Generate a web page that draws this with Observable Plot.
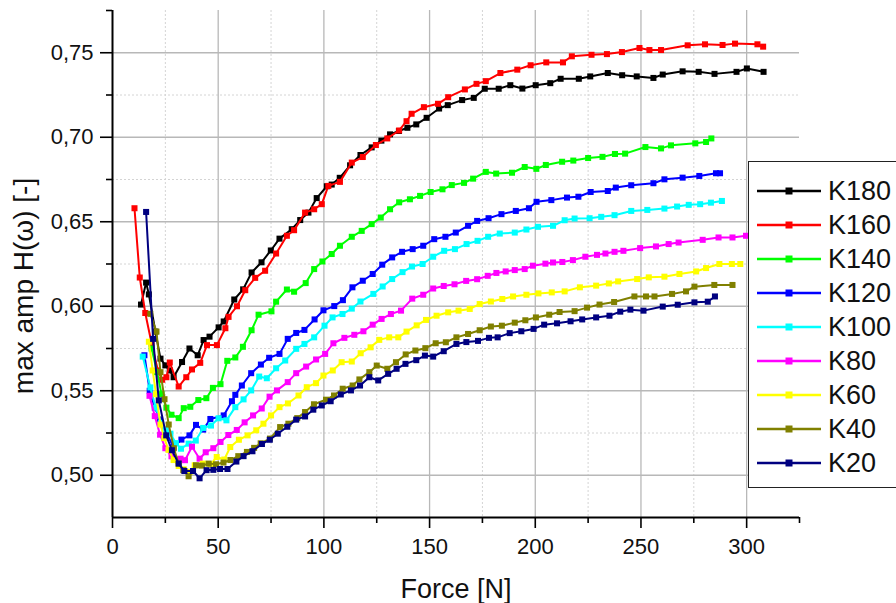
<!DOCTYPE html>
<html><head><meta charset="utf-8">
<script src="https://cdn.jsdelivr.net/npm/d3@7"></script>
<script src="https://cdn.jsdelivr.net/npm/@observablehq/plot@0.6"></script>
<style>
body{margin:0;background:#fff;font-family:"Liberation Sans",Arial,sans-serif;}
#wrap{position:relative;width:896px;height:603px;overflow:hidden;background:#fff;}
#legend{position:absolute;left:748px;top:161px;width:170px;height:327px;border:1px solid #222;background:#fff;box-sizing:border-box;}
.row{position:absolute;left:8px;height:34px;display:flex;align-items:center;}
.row span{font-size:27px;color:#111;margin-left:7px;line-height:34px;}
</style></head>
<body><div id="wrap"><div id="chart"></div><div id="legend"></div></div>
<script>
const names = ["K180","K160","K140","K120","K100","K80","K60","K40","K20"];
const colors = ["#000000","#ff0000","#00ff00","#0000ff","#00ffff","#ff00ff","#ffff00","#808000","#000080"];

const k180 = [[13.5,0.601],[15.9,0.614],[17.2,0.607],[20.3,0.585],[22.7,0.569],[25,0.565],[27.1,0.562],[28.9,0.558],[32.9,0.567],[36.4,0.575],[40.3,0.571],[43.1,0.580],[45.9,0.582],[50.2,0.5875],[52.6,0.591],[57.6,0.604],[61.8,0.610],[65.8,0.620],[70.5,0.626],[74.9,0.633],[79,0.640],[84.8,0.6456],[88.8,0.651],[92.7,0.6554],[96.6,0.664],[101.4,0.671],[103.7,0.672],[107.5,0.676],[112.4,0.6834],[117.3,0.6895],[122.6,0.694],[127.2,0.698],[131.3,0.7017],[135.5,0.7037],[139.5,0.7056],[143.7,0.7076],[148.6,0.7115],[154.5,0.717],[158.6,0.719],[165.4,0.722],[170.9,0.7233],[176.1,0.7287],[182.7,0.7287],[188.2,0.7308],[193.9,0.7288],[200.2,0.7308],[207.1,0.732],[212,0.7346],[220.6,0.7346],[226,0.736],[234.3,0.738],[241.1,0.7367],[248,0.736],[255.9,0.7351],[260.3,0.7371],[269.7,0.739],[277.3,0.7387],[284.8,0.7375],[295.2,0.7387],[300.1,0.7407],[308,0.7387]];
const k160 = [[10.4,0.658],[12.9,0.617],[15.5,0.596],[18.5,0.578],[21.5,0.562],[23.5,0.5565],[25.5,0.558],[27.1,0.5667],[31.3,0.5525],[34.9,0.558],[37.6,0.5626],[41.5,0.5665],[44.7,0.577],[49.4,0.577],[53.4,0.587],[54.9,0.5937],[58.9,0.600],[62.8,0.6095],[67.5,0.6168],[72.2,0.621],[77.4,0.6312],[82.5,0.6417],[85.9,0.645],[91.1,0.6554],[95.4,0.6574],[99,0.6604],[102.1,0.6712],[107.6,0.6736],[113.2,0.685],[118.4,0.6883],[124.6,0.6954],[130,0.6993],[135.6,0.704],[139.1,0.7095],[141.5,0.7139],[147.3,0.7178],[154,0.7198],[158.8,0.7237],[166.7,0.7283],[172.2,0.7316],[176.6,0.7332],[183.5,0.738],[191.5,0.740],[197.8,0.7426],[205.2,0.7443],[213.1,0.7443],[217.3,0.7479],[226.6,0.7488],[233.9,0.7492],[241,0.7504],[249.3,0.7528],[254,0.7516],[259.5,0.7516],[272.1,0.7544],[280.3,0.755],[288.6,0.7546],[294.5,0.7554],[305.1,0.755],[307.8,0.7536]];
const k140 = [[18.5,0.575],[21.1,0.561],[23.2,0.548],[25.5,0.540],[27.9,0.5358],[31.3,0.5338],[33.7,0.5397],[36.8,0.5405],[40.6,0.5445],[44.4,0.5456],[47.5,0.5517],[51.1,0.5539],[54.3,0.5677],[58.1,0.5697],[61.7,0.576],[65.8,0.5858],[69.1,0.595],[75.2,0.597],[77.4,0.6027],[82.5,0.6099],[85.9,0.6086],[91.4,0.6137],[95.4,0.622],[99.3,0.6265],[103.7,0.6309],[107.6,0.6358],[113.2,0.6411],[117.9,0.6446],[122.6,0.6486],[126.9,0.6525],[131.3,0.6574],[135.6,0.6615],[140.7,0.6633],[145.5,0.6653],[150.5,0.6676],[156.1,0.6692],[160.5,0.6717],[166.3,0.673],[170.6,0.6755],[176.6,0.6795],[181.5,0.6785],[189,0.679],[195,0.6824],[200.5,0.6813],[205,0.6836],[212.7,0.6855],[218,0.6862],[225,0.6877],[231.8,0.6884],[237.7,0.6901],[242.5,0.6903],[252.1,0.6942],[259.5,0.6934],[264.2,0.6952],[275.7,0.6964],[280.8,0.6972],[283.3,0.6993]];
const k120 = [[15.1,0.571],[17.6,0.550],[20,0.540],[22.5,0.533],[25,0.526],[28.9,0.5167],[32.6,0.5211],[36.4,0.5236],[39.5,0.5298],[42.9,0.527],[46.3,0.5333],[52.6,0.5354],[56.5,0.5438],[58.1,0.5476],[61.2,0.5531],[65.6,0.5604],[70.2,0.5655],[74.1,0.5695],[79,0.5718],[82.9,0.5807],[86.9,0.5842],[90.8,0.586],[95.6,0.5922],[99.8,0.5976],[104.9,0.6001],[109,0.6036],[113.5,0.6112],[118.4,0.6151],[123.1,0.6191],[127.6,0.6246],[132.3,0.6289],[137,0.6322],[142,0.6338],[147,0.6358],[152.2,0.6397],[157.5,0.6411],[162.4,0.6436],[168.2,0.6476],[172.5,0.6505],[177.9,0.6521],[184,0.6545],[190.8,0.6564],[197,0.658],[200.6,0.6618],[207.6,0.6628],[215,0.6643],[220.4,0.6648],[226.2,0.6676],[234.3,0.6682],[238.1,0.6702],[245.4,0.6716],[255.9,0.6728],[261.1,0.6751],[269.7,0.6761],[277.6,0.6771],[285.5,0.6787],[287.4,0.6787]];
const k100 = [[14.3,0.5702],[17.9,0.552],[20.5,0.540],[23,0.531],[25.2,0.527],[27.4,0.5246],[30,0.519],[32.4,0.5157],[36,0.5187],[39.4,0.5205],[42.9,0.528],[46.6,0.5294],[50.2,0.5337],[53.9,0.5325],[58.1,0.5403],[62,0.5449],[65.6,0.5502],[69.4,0.5584],[73,0.5574],[77.4,0.5633],[81.7,0.5679],[86.9,0.5748],[90.8,0.5777],[95.4,0.5816],[100.3,0.5885],[104.1,0.5934],[108.8,0.5954],[113.2,0.5986],[117.3,0.6028],[123.4,0.6073],[127.8,0.6117],[132.3,0.6161],[137.2,0.6202],[141.7,0.6235],[146.7,0.625],[151.7,0.6293],[156.9,0.6328],[162,0.6338],[167.5,0.6368],[172.7,0.6387],[177.7,0.6411],[183.2,0.643],[190.3,0.6436],[195.8,0.6454],[201.3,0.647],[208.4,0.6476],[213.9,0.6509],[218.6,0.6519],[225.7,0.6521],[231.2,0.6529],[237.5,0.6539],[245.4,0.6564],[253,0.657],[261.1,0.6578],[267.1,0.659],[272.6,0.66],[278,0.6604],[283.1,0.6613],[288.3,0.6623]];
const k80 = [[17.5,0.547],[20,0.535],[22.5,0.524],[25,0.516],[27.9,0.5112],[30.4,0.5093],[32.2,0.5098],[34.3,0.5089],[37.6,0.5169],[41.2,0.5098],[44.1,0.5136],[47.7,0.516],[51.1,0.5197],[54.8,0.5238],[58.8,0.5268],[62.5,0.5313],[66.5,0.5354],[70.6,0.5395],[74.3,0.5465],[77.8,0.5502],[82.9,0.5551],[86.9,0.5604],[91.6,0.5643],[96.3,0.5685],[100.6,0.5718],[104.5,0.5781],[109.7,0.5813],[114.4,0.5831],[118.7,0.5852],[123.1,0.5891],[127.3,0.5925],[131.7,0.5954],[136.5,0.5974],[141.8,0.6045],[147,0.6068],[151.7,0.6105],[156.7,0.612],[161.8,0.613],[167.3,0.615],[172.5,0.616],[177.5,0.618],[181.6,0.6197],[186,0.6206],[190.3,0.6214],[195,0.622],[198.9,0.624],[204.8,0.6252],[208.4,0.6259],[212.8,0.6262],[217.8,0.6273],[223.7,0.6293],[229.2,0.6304],[233.2,0.6312],[237.5,0.6322],[241.7,0.6328],[249.6,0.6344],[257.1,0.6354],[263.1,0.6368],[267.8,0.6377],[279.2,0.6393],[286.7,0.6407],[293.3,0.6407],[299.7,0.6417],[306,0.6425]];
const k60 = [[17.2,0.579],[19,0.562],[20.6,0.548],[22.7,0.530],[24.5,0.522],[26.5,0.515],[28.9,0.509],[31.3,0.5055],[33.7,0.5035],[36.5,0.502],[38.9,0.5059],[42.7,0.5069],[46.3,0.5063],[49.3,0.5108],[52.9,0.5093],[55.7,0.5167],[59.8,0.521],[63.9,0.5236],[68,0.5266],[71.4,0.5305],[75,0.5354],[79,0.5403],[83,0.5425],[88,0.5472],[91.9,0.5521],[96.3,0.5545],[99.8,0.559],[104.2,0.562],[108.4,0.5669],[113.2,0.5673],[117.4,0.5722],[122.1,0.5757],[126.2,0.5801],[130.9,0.5816],[135.2,0.5816],[139.1,0.585],[143.9,0.5887],[148.3,0.5919],[153.3,0.5944],[158.8,0.5964],[163.7,0.5974],[169,0.5984],[173.7,0.6013],[179,0.6028],[184.4,0.6043],[189.5,0.6058],[195.8,0.6068],[201.5,0.6076],[207.8,0.6082],[213.9,0.6088],[221.1,0.6112],[228.8,0.6122],[234.8,0.6135],[239.2,0.6147],[248.2,0.6161],[253.7,0.6171],[261.1,0.6175],[268.2,0.6191],[276.1,0.6206],[280.8,0.6226],[287.1,0.625],[293,0.625],[297,0.625]];
const k40 = [[17.9,0.5955],[20.8,0.585],[22.7,0.561],[24.6,0.545],[26.6,0.530],[29,0.516],[31.3,0.5069],[33.5,0.503],[36,0.4994],[39.5,0.5059],[42.3,0.5057],[45.5,0.5069],[49,0.5065],[52.5,0.5075],[55.8,0.509],[59.5,0.5113],[63.6,0.5138],[67,0.5162],[70.1,0.5189],[74.5,0.5217],[79.3,0.5285],[83.2,0.5305],[87.4,0.5338],[91.1,0.5374],[95.3,0.542],[101,0.5447],[104.8,0.5472],[108.9,0.5512],[113.6,0.5531],[116.8,0.5567],[121.5,0.561],[125,0.5649],[130,0.563],[134.1,0.5669],[138.7,0.5715],[143.3,0.5738],[148,0.5752],[152.9,0.5781],[157.7,0.5787],[162.7,0.5816],[168.2,0.5836],[173.7,0.5858],[179,0.588],[184.2,0.5885],[190.3,0.5903],[195.3,0.5917],[200.3,0.5934],[206.6,0.595],[211.5,0.5966],[218.6,0.5971],[224.5,0.5992],[230.4,0.601],[237.3,0.6025],[246.9,0.6058],[252.4,0.6058],[256.4,0.6058],[264.7,0.6073],[271.3,0.6088],[275.3,0.6116],[284.7,0.6126],[293.3,0.6126]];
const k20 = [[15.9,0.6558],[19.2,0.5807],[21.9,0.5443],[25.4,0.5236],[28.1,0.5148],[31.3,0.5069],[34,0.5025],[38.1,0.5025],[41.2,0.4982],[44.5,0.503],[47.7,0.5032],[50.9,0.5037],[54.4,0.5037],[58.6,0.5081],[62,0.5113],[66.2,0.5142],[70.7,0.5185],[74.4,0.521],[78.2,0.5246],[82.7,0.5287],[86.9,0.5329],[91.1,0.5348],[95,0.5388],[99,0.5413],[103.2,0.5438],[108,0.5478],[112.8,0.5502],[117.1,0.5531],[121.5,0.558],[125.7,0.5561],[130.4,0.56],[134.4,0.563],[138.6,0.5659],[143.7,0.5681],[147.8,0.5708],[151.7,0.5702],[156.7,0.5734],[162.7,0.5777],[167.4,0.5788],[172.9,0.5795],[178.1,0.5813],[182.2,0.5816],[187.9,0.5841],[193.4,0.5852],[199.2,0.5866],[204.2,0.5891],[210.3,0.5899],[216.7,0.5911],[222.2,0.5922],[228.8,0.5934],[235.1,0.5944],[240.2,0.5968],[245,0.598],[251.2,0.5974],[260.3,0.5998],[267.4,0.6009],[275.3,0.6023],[281.6,0.6027],[285,0.6058]];

const allSeries = [k180,k160,k140,k120,k100,k80,k60,k40,k20];
const xMajor = [0,50,100,150,200,250,300];
const xMinor = [25,75,125,175,225,275,325];
const yMajor = [0.50,0.55,0.60,0.65,0.70,0.75];
const yMinor = [0.525,0.575,0.625,0.675,0.725,0.775];
const xTitle = "Force [N]";
const yTitle = "max amp H(ω) [-]";

const seriesMarks = allSeries.flatMap((s,i) => {
  const data = s.map(([f,a]) => ({force:f, amp:a, series:names[i]}));
  return [
    Plot.line(data,{x:"force",y:"amp",stroke:colors[i],strokeWidth:2}),
    Plot.dot(data,{x:"force",y:"amp",symbol:"square",fill:colors[i],stroke:"none",r:3.4})
  ];
});

const fmt = d => d.toFixed(2).replace(".",",");
const chart = Plot.plot({
  width:896, height:603,
  marginLeft:112, marginRight:97, marginTop:10, marginBottom:86,
  x:{domain:[0,325], label:null},
  y:{domain:[0.475,0.775], label:null},
  style:{fontFamily:"'Liberation Sans',Arial,sans-serif", background:"#fff", color:"#111", overflow:"visible"},
  marks:[
    Plot.gridX(xMinor.filter(d=>d<325),{stroke:"#d4d4d4",strokeOpacity:1,strokeDasharray:"2,2"}),
    Plot.gridY(yMinor.filter(d=>d<0.775),{stroke:"#d4d4d4",strokeOpacity:1,strokeDasharray:"2,2"}),
    Plot.gridX(xMajor.filter(d=>d>0),{stroke:"#b8b8b8",strokeOpacity:1,strokeWidth:1.3}),
    Plot.gridY(yMajor,{stroke:"#b8b8b8",strokeOpacity:1,strokeWidth:1.3}),
    ...seriesMarks,
    Plot.ruleX([0],{stroke:"#000",strokeWidth:2}),
    Plot.ruleY([0.475],{stroke:"#000",strokeWidth:2}),
    Plot.axisY(yMajor,{tickSize:12,tickPadding:7,tickFormat:fmt,fontSize:22,stroke:"#000",strokeWidth:1.6,label:null}),
    Plot.axisY(yMinor,{tickSize:6,text:null,stroke:"#000",strokeWidth:1.6,label:null}),
    Plot.axisX(xMajor,{tickSize:11,tickPadding:10,fontSize:22,stroke:"#000",strokeWidth:1.6,label:null}),
    Plot.axisX(xMinor,{tickSize:6,text:null,stroke:"#000",strokeWidth:1.6,label:null}),
    Plot.text([xTitle],{frameAnchor:"bottom",dy:80,lineAnchor:"bottom",textAnchor:"middle",fontSize:27,fill:"#111"}),
    Plot.text([yTitle],{frameAnchor:"left",dx:-80,dy:22,rotate:-90,lineAnchor:"bottom",textAnchor:"middle",fontSize:28,fill:"#111"})
  ]
});
document.getElementById("chart").appendChild(chart);

// legend
const leg = d3.select("#legend");
names.forEach((n,i) => {
  const row = leg.append("div").attr("class","row").style("top",(12 + i*34) + "px");
  const svg = row.append("svg").attr("width",64).attr("height",12);
  svg.append("line").attr("x1",0).attr("x2",64).attr("y1",6).attr("y2",6).attr("stroke",colors[i]).attr("stroke-width",2.5);
  svg.append("rect").attr("x",28.5).attr("y",2.5).attr("width",7).attr("height",7).attr("fill",colors[i]);
  row.append("span").text(n);
});
</script>
</body></html>
